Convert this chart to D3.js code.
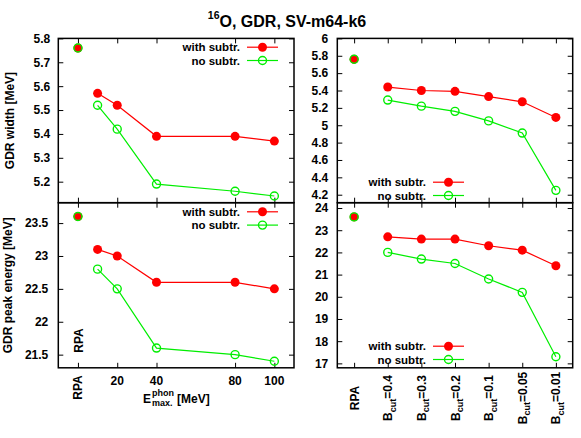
<!DOCTYPE html>
<html>
<head>
<meta charset="utf-8">
<script src="https://cdn.jsdelivr.net/npm/d3@7"></script>
<style>
  body { margin: 0; background: #fff; }
  svg text { font-family: "Liberation Sans", Arial, sans-serif; font-weight: bold; fill: #000; }
</style>
</head>
<body>
<svg id="chart" width="581" height="438"></svg>
<script>

// ---------------------------------------------------------------------------
// DATA
// ---------------------------------------------------------------------------

// left column: cut-off energy of phonons (0 = RPA)
var eMax = [10, 20, 40, 80, 100];
var eTicks = [0, 20, 40, 80, 100];
var eTickLabels = ["RPA", "20", "40", "80", "100"];

// right column: B_cut values, index 0 = RPA
var bCut = ["0.4", "0.3", "0.2", "0.1", "0.05", "0.01"];
var bIndex = [1, 2, 3, 4, 5, 6];

var rpaWidth = 5.76;
var rpaPeak = 23.6;

var widthWithE = [5.57, 5.52, 5.39, 5.39, 5.37];
var widthNoE   = [5.52, 5.42, 5.19, 5.16, 5.14];
var peakWithE  = [23.1, 23.0, 22.6, 22.6, 22.5];
var peakNoE    = [22.8, 22.5, 21.6, 21.5, 21.4];

var widthWithB = [5.44, 5.40, 5.39, 5.33, 5.27, 5.09];
var widthNoB   = [5.29, 5.22, 5.16, 5.05, 4.91, 4.25];
var peakWithB  = [22.7, 22.6, 22.6, 22.3, 22.1, 21.4];
var peakNoB    = [22.0, 21.7, 21.5, 20.8, 20.2, 17.3];

var widthTicksE = [5.2, 5.3, 5.4, 5.5, 5.6, 5.7, 5.8];
var peakTicksE  = [21.5, 22, 22.5, 23, 23.5];
var widthTicksB = [4.2, 4.4, 4.6, 4.8, 5, 5.2, 5.4, 5.6, 5.8, 6];
var peakTicksB  = [17, 18, 19, 20, 21, 22, 23, 24];

var legendLabels = ["with subtr.", "no subtr."];

// ---------------------------------------------------------------------------
// DRAWING
// ---------------------------------------------------------------------------

var svg = d3.select("#chart");
var font = "'Liberation Sans', Arial, sans-serif";
var colWith = "#ff0000", colNo = "#00ee00";
var fmt = d3.format("~g");

function drawPanel(p) {

    var x = d3.scaleLinear().domain(p.xDomain).range([p.left, p.right]);
    var y = d3.scaleLinear().domain(p.yDomain).range([p.bottom, p.top]);
    var g = svg.append("g");

    // ticks on all four sides, pointing inward
    g.append("g").attr("transform", "translate(" + p.left + ",0)")
        .call(d3.axisLeft(y).tickValues(p.yTicks).tickSize(-5).tickPadding(p.yPad).tickFormat(fmt));
    g.append("g").attr("transform", "translate(" + p.right + ",0)")
        .call(d3.axisRight(y).tickValues(p.yTicks).tickSize(-5).tickFormat(""));
    g.append("g").attr("transform", "translate(0," + p.bottom + ")")
        .call(d3.axisBottom(x).tickValues(p.xTicks).tickSize(-5).tickFormat(""));
    g.append("g").attr("transform", "translate(0," + p.top + ")")
        .call(d3.axisTop(x).tickValues(p.xTicks).tickSize(-5).tickFormat(""));

    g.selectAll(".domain").remove();
    g.selectAll(".tick line").attr("stroke", "#000").attr("stroke-width", 1);
    g.selectAll("g").attr("font-family", font).attr("font-size", 12);

    g.append("rect")
        .attr("x", p.left).attr("y", p.top)
        .attr("width", p.right - p.left).attr("height", p.bottom - p.top)
        .attr("fill", "none").attr("stroke", "#000").attr("stroke-width", 1.5);

    var line = d3.line().x(function(d) { return x(d[0]); }).y(function(d) { return y(d[1]); });

    var withPts = p.xs.map(function(v, i) { return [v, p.withVals[i]]; });
    var noPts = p.xs.map(function(v, i) { return [v, p.noVals[i]]; });

    g.append("path").datum(withPts).attr("d", line)
        .attr("fill", "none").attr("stroke", colWith).attr("stroke-width", 1.2);
    g.selectAll(".pw").data(withPts.concat([[0, p.rpa]])).enter().append("circle")
        .attr("cx", function(d) { return x(d[0]); }).attr("cy", function(d) { return y(d[1]); })
        .attr("r", 4.5).attr("fill", colWith);

    g.append("path").datum(noPts).attr("d", line)
        .attr("fill", "none").attr("stroke", colNo).attr("stroke-width", 1.2);
    g.selectAll(".pn").data(noPts.concat([[0, p.rpa]])).enter().append("circle")
        .attr("cx", function(d) { return x(d[0]); }).attr("cy", function(d) { return y(d[1]); })
        .attr("r", 4).attr("fill", "none").attr("stroke", colNo).attr("stroke-width", 1.4);

    // legend
    var cols = [colWith, colNo];
    legendLabels.forEach(function(lab, i) {
        var ly = p.legY + i * 13.3 - 0.5;
        g.append("text").attr("x", p.legX - 7).attr("y", ly + 4.1)
            .attr("text-anchor", "end").attr("font-size", 11.5).text(lab);
        g.append("line").attr("x1", p.legX).attr("x2", p.legX + 31).attr("y1", ly).attr("y2", ly)
            .attr("stroke", cols[i]).attr("stroke-width", 1.2);
        var c = g.append("circle").attr("cx", p.legX + 15.5).attr("cy", ly);
        if (i === 0) c.attr("r", 4.5).attr("fill", colWith);
        else c.attr("r", 4).attr("fill", "none").attr("stroke", colNo).attr("stroke-width", 1.4);
    });

    return x;
}

var L = {left: 58.3, right: 294};
var R = {left: 337.3, right: 572.7};
var T = {top: 38.4, bottom: 202.7};
var B = {top: 202.7, bottom: 367.8};

var xl = drawPanel({left: L.left, right: L.right, top: T.top, bottom: T.bottom,
    xDomain: [-10, 110], yDomain: [5.112, 5.8], xTicks: eTicks, yTicks: widthTicksE, yPad: 8,
    xs: eMax, withVals: widthWithE, noVals: widthNoE, rpa: rpaWidth, legX: 247, legY: 47.7});

drawPanel({left: L.left, right: L.right, top: B.top, bottom: B.bottom,
    xDomain: [-10, 110], yDomain: [21.3, 23.81], xTicks: eTicks, yTicks: peakTicksE, yPad: 10,
    xs: eMax, withVals: peakWithE, noVals: peakNoE, rpa: rpaPeak, legX: 247, legY: 212.3});

var xr = drawPanel({left: R.left, right: R.right, top: T.top, bottom: T.bottom,
    xDomain: [-0.5, 6.5], yDomain: [4.108, 6.0], xTicks: [0].concat(bIndex), yTicks: widthTicksB, yPad: 9,
    xs: bIndex, withVals: widthWithB, noVals: widthNoB, rpa: rpaWidth, legX: 433, legY: 182.7});

drawPanel({left: R.left, right: R.right, top: B.top, bottom: B.bottom,
    xDomain: [-0.5, 6.5], yDomain: [16.8, 24.24], xTicks: [0].concat(bIndex), yTicks: peakTicksB, yPad: 9,
    xs: bIndex, withVals: peakWithB, noVals: peakNoB, rpa: rpaPeak, legX: 433, legY: 346.7});

// left x tick labels
eTicks.forEach(function(v, i) {
    if (v === 0) {
        svg.append("text").attr("transform", "translate(" + (xl(v) + 4.5) + ",387.5) rotate(-90)")
            .attr("text-anchor", "middle").attr("font-size", 12).text(eTickLabels[i]);
    } else {
        svg.append("text").attr("x", xl(v)).attr("y", 385)
            .attr("text-anchor", "middle").attr("font-size", 12).text(eTickLabels[i]);
    }
});

// "RPA" inside the lower left panel
svg.append("text").attr("transform", "translate(" + (xl(0) + 4.7) + ",340.5) rotate(-90)")
    .attr("text-anchor", "middle").attr("font-size", 12).text("RPA");

// right x tick labels
svg.append("text").attr("transform", "translate(" + (xr(0) + 4.5) + ",398) rotate(-90)")
    .attr("text-anchor", "middle").attr("font-size", 12).text("RPA");
bCut.forEach(function(b, i) {
    var t = svg.append("text").attr("transform", "translate(" + (xr(bIndex[i]) + 4.5) + ",398) rotate(-90)")
        .attr("text-anchor", "middle").attr("font-size", 12);
    t.append("tspan").text("B");
    t.append("tspan").attr("dy", 3.5).attr("font-size", 9).text("cut");
    t.append("tspan").attr("dy", -3.5).text("=" + b);
});

// x axis title, left column
var xt = svg.append("g").attr("font-size", 12);
xt.append("text").attr("x", 143).attr("y", 403).text("E");
xt.append("text").attr("x", 152).attr("y", 396).attr("font-size", 9).text("phon");
xt.append("text").attr("x", 152).attr("y", 406).attr("font-size", 9).text("max.");
xt.append("text").attr("x", 177).attr("y", 403).text("[MeV]");

// y axis titles
svg.append("text").attr("transform", "translate(14," + ((T.top + T.bottom) / 2) + ") rotate(-90)")
    .attr("text-anchor", "middle").attr("font-size", 12).text("GDR width [MeV]");
svg.append("text").attr("transform", "translate(12," + ((B.top + B.bottom) / 2) + ") rotate(-90)")
    .attr("text-anchor", "middle").attr("font-size", 12).text("GDR peak energy [MeV]");

// title
var title = svg.append("text").attr("x", 287).attr("y", 26.5).attr("text-anchor", "middle").attr("font-size", 16);
title.append("tspan").attr("font-size", 10.5).attr("dy", -8).text("16");
title.append("tspan").attr("dy", 8).text("O, GDR, SV-m64-k6");

</script>
</body>
</html>
